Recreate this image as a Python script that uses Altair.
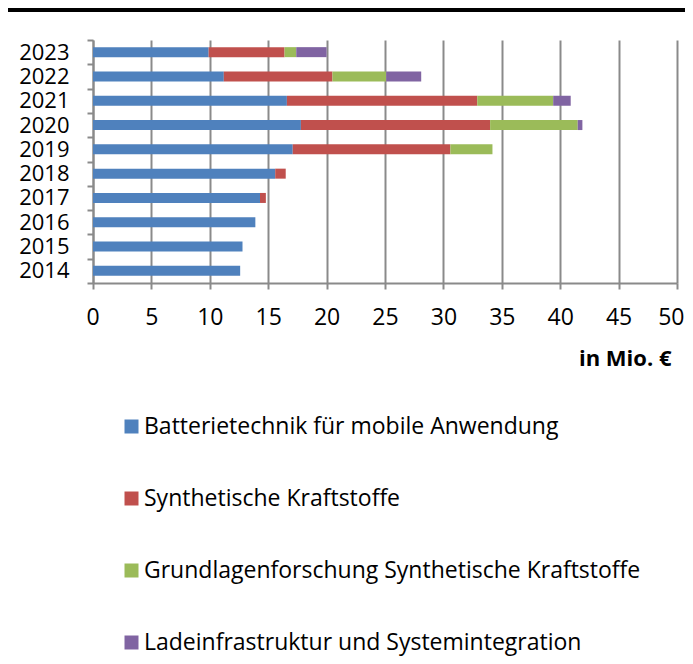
import altair as alt
import pandas as pd

years = ["2014", "2015", "2016", "2017", "2018", "2019", "2020", "2021", "2022", "2023"]
series = [
    "Batterietechnik für mobile Anwendung",
    "Synthetische Kraftstoffe",
    "Grundlagenforschung Synthetische Kraftstoffe",
    "Ladeinfrastruktur und Systemintegration",
]
batterie = [12.6, 12.8, 13.9, 14.3, 15.6, 17.1, 17.8, 16.6, 11.2, 9.9]
synth = [0.0, 0.0, 0.0, 0.5, 0.9, 13.5, 16.2, 16.3, 9.3, 6.5]
grundlagen = [0.0, 0.0, 0.0, 0.0, 0.0, 3.6, 7.5, 6.5, 4.6, 1.0]
lade = [0.0, 0.0, 0.0, 0.0, 0.0, 0.0, 0.4, 1.5, 3.0, 2.6]
colors = ["#4F81BD", "#C0504D", "#9BBB59", "#8064A2"]

rows = []
for i, y in enumerate(years):
    for k, vals in enumerate([batterie, synth, grundlagen, lade]):
        if vals[i] > 0:
            rows.append({"Jahr": y, "Reihe": series[k], "Wert": vals[i], "ord": k})
df = pd.DataFrame(rows)

FONT = "Open Sans"

bars = alt.Chart(df).mark_bar(size=10).encode(
    x=alt.X(
        "Wert:Q",
        stack="zero",
        scale=alt.Scale(domain=[0, 50], nice=False),
        axis=alt.Axis(
            values=[0, 5, 10, 15, 20, 25, 30, 35, 40, 45, 50],
            grid=True,
            gridColor="#8a8a8a",
            gridWidth=2,
            domainColor="#8a8a8a",
            domainWidth=2,
            tickColor="#8a8a8a",
            tickWidth=2,
            tickSize=6,
            labelFontSize=23,
            labelColor="#000000",
            labelFont=FONT,
            labelPadding=17,
            labelFlush=True,
            labelFlushOffset=7,
            labelOverlap=False,
            title="in Mio. €",
            titleFont=FONT,
            titleFontSize=22,
            titleFontWeight="bold",
            titleColor="#000000",
            titleAlign="right",
            titleAnchor="end",
            titleBaseline="middle",
            titleX=578,
            titleY=75,
        ),
    ),
    y=alt.Y(
        "Jahr:N",
        sort=years[::-1],
        scale=alt.Scale(paddingInner=0, paddingOuter=0),
        axis=alt.Axis(
            title=None,
            grid=False,
            tickBand="extent",
            domainColor="#8a8a8a",
            domainWidth=2,
            tickColor="#8a8a8a",
            tickWidth=2,
            tickSize=6,
            labelFontSize=22,
            labelColor="#000000",
            labelFont=FONT,
            labelPadding=18,
        ),
    ),
    color=alt.Color(
        "Reihe:N",
        scale=alt.Scale(domain=series, range=colors),
        legend=alt.Legend(
            title=None,
            orient="none",
            legendX=27,
            legendY=375,
            direction="vertical",
            symbolType="square",
            symbolSize=196,
            symbolStrokeWidth=0,
            labelFontSize=23,
            labelFont=FONT,
            labelColor="#000000",
            labelOffset=1,
            rowPadding=48,
            labelLimit=600,
        ),
    ),
    order=alt.Order("ord:Q"),
)

topline = alt.Chart(pd.DataFrame({"a": [0]})).mark_rule(color="#000000", strokeWidth=4).encode(
    x=alt.value(-85), x2=alt.value(592), y=alt.value(-30)
)

chart = alt.layer(topline, bars).properties(
    width=584,
    height=243,
    autosize=alt.AutoSizeParams(type="none"),
    padding={"left": 85, "top": 32, "right": 8, "bottom": 373},
).configure_view(stroke=None)

chart.save("out.html", embed_options={"renderer": "svg", "actions": False})
